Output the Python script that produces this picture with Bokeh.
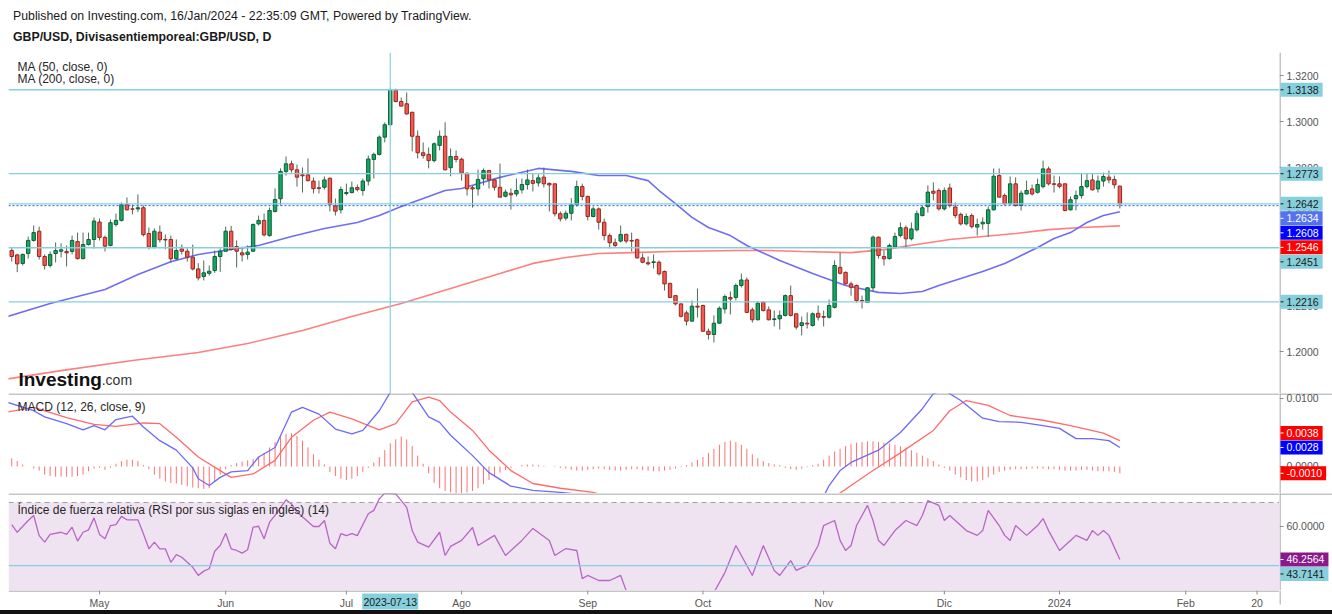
import pandas as pd
from bokeh.plotting import figure
from bokeh.models import Range1d, Span, Label, Div, ColumnDataSource, BoxAnnotation
from bokeh.layouts import column, row
from bokeh.core.properties import value
from bokeh.embed import file_html
from bokeh.resources import INLINE

FONT = "Liberation Sans"

# ---------------- data ----------------
dates = pd.bdate_range("2023-04-07", "2024-01-16")

open_ = [1.2439, 1.2420, 1.2383, 1.2426, 1.2483, 1.2523, 1.2413, 1.2374, 1.2426, 1.2436,
         1.2435, 1.2435, 1.2478, 1.2404, 1.2465, 1.2487, 1.2563, 1.2496, 1.2461, 1.2552,
         1.2570, 1.2639, 1.2620, 1.2620, 1.2625, 1.2513, 1.2454, 1.2519, 1.2487, 1.2487,
         1.2403, 1.2446, 1.2436, 1.2410, 1.2359, 1.2326, 1.2340, 1.2352, 1.2413, 1.2436,
         1.2523, 1.2456, 1.2429, 1.2422, 1.2436, 1.2555, 1.2570, 1.2504, 1.2609, 1.2664,
         1.2783, 1.2816, 1.2790, 1.2768, 1.2768, 1.2741, 1.2712, 1.2714, 1.2753, 1.2633,
         1.2616, 1.2687, 1.2691, 1.2713, 1.2700, 1.2741, 1.2835, 1.2857, 1.2932, 1.2986,
         1.3135, 1.3087, 1.3077, 1.3040, 1.2936, 1.2864, 1.2857, 1.2830, 1.2896, 1.2936,
         1.2799, 1.2848, 1.2836, 1.2775, 1.2712, 1.2707, 1.2751, 1.2787, 1.2746, 1.2714,
         1.2675, 1.2688, 1.2685, 1.2703, 1.2726, 1.2743, 1.2733, 1.2758, 1.2731, 1.2729,
         1.2599, 1.2580, 1.2601, 1.2638, 1.2717, 1.2674, 1.2587, 1.2620, 1.2562, 1.2504,
         1.2473, 1.2480, 1.2509, 1.2483, 1.2486, 1.2407, 1.2386, 1.2387, 1.2388, 1.2348,
         1.2296, 1.2243, 1.2207, 1.2168, 1.2132, 1.2197, 1.2200, 1.2088, 1.2074, 1.2123,
         1.2185, 1.2235, 1.2235, 1.2287, 1.2311, 1.2181, 1.2138, 1.2214, 1.2181, 1.2139,
         1.2142, 1.2157, 1.2243, 1.2164, 1.2113, 1.2123, 1.2113, 1.2166, 1.2152, 1.2149,
         1.2192, 1.2366, 1.2344, 1.2294, 1.2287, 1.2222, 1.2214, 1.2277, 1.2497, 1.2413,
         1.2404, 1.2454, 1.2504, 1.2538, 1.2490, 1.2529, 1.2591, 1.2630, 1.2697, 1.2700,
         1.2620, 1.2711, 1.2628, 1.2596, 1.2555, 1.2591, 1.2541, 1.2555, 1.2557, 1.2616,
         1.2765, 1.2678, 1.2642, 1.2729, 1.2635, 1.2685, 1.2707, 1.2692, 1.2717, 1.2794,
         1.2729, 1.2729, 1.2729, 1.2616, 1.2664, 1.2678, 1.2717, 1.2746, 1.2707, 1.2741,
         1.2758, 1.2748, 1.2719]

high = [1.2452, 1.2425, 1.2426, 1.2500, 1.2548, 1.2543, 1.2422, 1.2435, 1.2474, 1.2470,
        1.2461, 1.2504, 1.2517, 1.2517, 1.2517, 1.2583, 1.2578, 1.2504, 1.2574, 1.2600,
        1.2648, 1.2670, 1.2639, 1.2683, 1.2635, 1.2539, 1.2535, 1.2548, 1.2509, 1.2504,
        1.2487, 1.2465, 1.2448, 1.2465, 1.2384, 1.2396, 1.2374, 1.2439, 1.2448, 1.2543,
        1.2546, 1.2483, 1.2456, 1.2461, 1.2557, 1.2591, 1.2600, 1.2626, 1.2709, 1.2796,
        1.2848, 1.2830, 1.2813, 1.2800, 1.2839, 1.2757, 1.2743, 1.2761, 1.2757, 1.2665,
        1.2717, 1.2730, 1.2739, 1.2726, 1.2752, 1.2852, 1.2865, 1.2939, 1.2996, 1.3143,
        1.3143, 1.3104, 1.3126, 1.3043, 1.2961, 1.2909, 1.2887, 1.2909, 1.2961, 1.2997,
        1.2883, 1.2874, 1.2843, 1.2778, 1.2722, 1.2791, 1.2796, 1.2787, 1.2752, 1.2817,
        1.2704, 1.2709, 1.2752, 1.2752, 1.2791, 1.2774, 1.2770, 1.2800, 1.2735, 1.2730,
        1.2609, 1.2613, 1.2667, 1.2743, 1.2730, 1.2678, 1.2630, 1.2626, 1.2578, 1.2513,
        1.2491, 1.2548, 1.2513, 1.2517, 1.2491, 1.2426, 1.2413, 1.2422, 1.2396, 1.2352,
        1.2299, 1.2243, 1.2209, 1.2178, 1.2222, 1.2274, 1.2204, 1.2100, 1.2157, 1.2196,
        1.2248, 1.2261, 1.2296, 1.2339, 1.2322, 1.2191, 1.2217, 1.2217, 1.2196, 1.2178,
        1.2178, 1.2248, 1.2287, 1.2165, 1.2152, 1.2170, 1.2170, 1.2200, 1.2178, 1.2226,
        1.2396, 1.2430, 1.2348, 1.2304, 1.2291, 1.2243, 1.2278, 1.2504, 1.2500, 1.2439,
        1.2470, 1.2517, 1.2561, 1.2548, 1.2561, 1.2613, 1.2635, 1.2722, 1.2735, 1.2709,
        1.2713, 1.2730, 1.2648, 1.2604, 1.2600, 1.2600, 1.2578, 1.2583, 1.2630, 1.2796,
        1.2796, 1.2687, 1.2761, 1.2757, 1.2700, 1.2743, 1.2726, 1.2752, 1.2830, 1.2804,
        1.2765, 1.2761, 1.2730, 1.2674, 1.2700, 1.2774, 1.2774, 1.2774, 1.2765, 1.2778,
        1.2787, 1.2765, 1.2721]

low = [1.2391, 1.2345, 1.2374, 1.2404, 1.2478, 1.2400, 1.2357, 1.2365, 1.2387, 1.2409,
       1.2370, 1.2422, 1.2400, 1.2400, 1.2461, 1.2448, 1.2483, 1.2435, 1.2457, 1.2543,
       1.2565, 1.2613, 1.2596, 1.2606, 1.2500, 1.2444, 1.2448, 1.2474, 1.2444, 1.2387,
       1.2396, 1.2422, 1.2391, 1.2352, 1.2309, 1.2309, 1.2330, 1.2342, 1.2346, 1.2435,
       1.2439, 1.2365, 1.2391, 1.2400, 1.2435, 1.2548, 1.2500, 1.2500, 1.2604, 1.2635,
       1.2765, 1.2778, 1.2717, 1.2691, 1.2739, 1.2687, 1.2687, 1.2704, 1.2609, 1.2591,
       1.2600, 1.2678, 1.2687, 1.2696, 1.2678, 1.2722, 1.2752, 1.2852, 1.2909, 1.2985,
       1.3083, 1.3065, 1.3030, 1.2870, 1.2839, 1.2839, 1.2796, 1.2822, 1.2874, 1.2787,
       1.2762, 1.2822, 1.2743, 1.2678, 1.2626, 1.2678, 1.2722, 1.2709, 1.2700, 1.2670,
       1.2670, 1.2617, 1.2674, 1.2687, 1.2704, 1.2696, 1.2717, 1.2713, 1.2609, 1.2587,
       1.2565, 1.2570, 1.2570, 1.2630, 1.2657, 1.2570, 1.2583, 1.2530, 1.2483, 1.2448,
       1.2452, 1.2474, 1.2470, 1.2435, 1.2404, 1.2384, 1.2374, 1.2361, 1.2330, 1.2265,
       1.2233, 1.2200, 1.2148, 1.2113, 1.2130, 1.2148, 1.2087, 1.2052, 1.2039, 1.2122,
       1.2165, 1.2161, 1.2222, 1.2278, 1.2168, 1.2126, 1.2135, 1.2174, 1.2135, 1.2109,
       1.2096, 1.2152, 1.2152, 1.2096, 1.2070, 1.2100, 1.2109, 1.2135, 1.2109, 1.2143,
       1.2187, 1.2335, 1.2291, 1.2243, 1.2213, 1.2187, 1.2213, 1.2261, 1.2404, 1.2374,
       1.2400, 1.2448, 1.2496, 1.2448, 1.2483, 1.2522, 1.2587, 1.2604, 1.2657, 1.2613,
       1.2613, 1.2626, 1.2580, 1.2548, 1.2548, 1.2535, 1.2504, 1.2530, 1.2498, 1.2613,
       1.2670, 1.2635, 1.2635, 1.2630, 1.2613, 1.2683, 1.2678, 1.2687, 1.2709, 1.2722,
       1.2691, 1.2709, 1.2609, 1.2613, 1.2613, 1.2665, 1.2709, 1.2700, 1.2691, 1.2717,
       1.2731, 1.2709, 1.2622]

close = [1.2413, 1.2381, 1.2422, 1.2483, 1.2517, 1.2413, 1.2374, 1.2422, 1.2439, 1.2442,
         1.2429, 1.2483, 1.2404, 1.2465, 1.2487, 1.2567, 1.2496, 1.2458, 1.2560, 1.2570,
         1.2639, 1.2616, 1.2619, 1.2625, 1.2508, 1.2454, 1.2523, 1.2486, 1.2485, 1.2403,
         1.2439, 1.2436, 1.2410, 1.2359, 1.2320, 1.2342, 1.2349, 1.2413, 1.2436, 1.2523,
         1.2443, 1.2436, 1.2420, 1.2432, 1.2552, 1.2570, 1.2507, 1.2613, 1.2661, 1.2783,
         1.2816, 1.2790, 1.2758, 1.2764, 1.2743, 1.2708, 1.2709, 1.2746, 1.2639, 1.2610,
         1.2704, 1.2691, 1.2712, 1.2704, 1.2741, 1.2837, 1.2857, 1.2932, 1.2986, 1.3135,
         1.3087, 1.3067, 1.3033, 1.2936, 1.2864, 1.2852, 1.2830, 1.2903, 1.2936, 1.2790,
         1.2848, 1.2835, 1.2775, 1.2707, 1.2707, 1.2748, 1.2787, 1.2746, 1.2714, 1.2671,
         1.2693, 1.2681, 1.2700, 1.2726, 1.2746, 1.2731, 1.2755, 1.2729, 1.2724, 1.2599,
         1.2577, 1.2601, 1.2638, 1.2717, 1.2674, 1.2587, 1.2620, 1.2562, 1.2504, 1.2473,
         1.2461, 1.2509, 1.2480, 1.2480, 1.2407, 1.2388, 1.2381, 1.2390, 1.2338, 1.2294,
         1.2235, 1.2207, 1.2153, 1.2132, 1.2197, 1.2193, 1.2088, 1.2074, 1.2123, 1.2188,
         1.2239, 1.2228, 1.2287, 1.2311, 1.2170, 1.2138, 1.2210, 1.2178, 1.2138, 1.2142,
         1.2157, 1.2243, 1.2157, 1.2106, 1.2125, 1.2120, 1.2164, 1.2149, 1.2149, 1.2200,
         1.2374, 1.2340, 1.2294, 1.2279, 1.2222, 1.2219, 1.2277, 1.2497, 1.2417, 1.2403,
         1.2461, 1.2500, 1.2538, 1.2490, 1.2533, 1.2599, 1.2625, 1.2693, 1.2688, 1.2620,
         1.2700, 1.2635, 1.2591, 1.2555, 1.2587, 1.2543, 1.2552, 1.2562, 1.2616, 1.2762,
         1.2671, 1.2642, 1.2729, 1.2635, 1.2688, 1.2700, 1.2685, 1.2726, 1.2794, 1.2729,
         1.2727, 1.2718, 1.2613, 1.2660, 1.2678, 1.2717, 1.2743, 1.2703, 1.2741, 1.2761,
         1.2746, 1.2725, 1.2642]

# moving averages (bar number, value)
ma50_bar = [-1, 7, 17, 23, 29, 34, 39, 45, 51, 57, 63, 67, 71, 79, 82, 89, 96, 102, 107, 112,
            116, 118, 121, 124, 127, 131, 134, 140, 146, 152, 158, 162, 166, 169, 173, 177,
            181, 184, 187, 190, 193, 196, 199, 202]
ma50_val = [1.2150, 1.2209, 1.2270, 1.2335, 1.2390, 1.2422, 1.2440, 1.2461, 1.2500, 1.2535,
            1.2561, 1.2591, 1.2630, 1.2700, 1.2709, 1.2757, 1.2796, 1.2783, 1.2765, 1.2765,
            1.2743, 1.2700, 1.2643, 1.2583, 1.2539, 1.2504, 1.2461, 1.2396, 1.2339, 1.2287,
            1.2257, 1.2252, 1.2261, 1.2287, 1.2317, 1.2348, 1.2383, 1.2417, 1.2452, 1.2491,
            1.2517, 1.2561, 1.2591, 1.2608]
ma200_bar = [-1, 9, 22, 34, 43, 53, 62, 71, 77, 83, 89, 95, 101, 107, 113, 120, 132, 138,
             144, 153, 159, 165, 171, 177, 183, 189, 195, 202]
ma200_val = [1.1880, 1.1917, 1.1961, 1.1996, 1.2035, 1.2091, 1.2152, 1.2209, 1.2252, 1.2296,
             1.2339, 1.2383, 1.2409, 1.2426, 1.2430, 1.2435, 1.2439, 1.2439, 1.2435, 1.2430,
             1.2443, 1.2465, 1.2487, 1.2500, 1.2513, 1.2530, 1.2539, 1.2546]

# MACD (12, 26, close, 9)
macd_bar = [-1, 4, 6, 10, 13, 15, 17, 19, 22, 24, 27, 30, 33, 34, 36, 38, 40, 43, 45, 48,
            51, 53, 56, 59, 62, 64, 67, 69, 71, 73, 76, 78, 80, 84, 87, 91, 95, 100, 106, 111,
            117, 122, 127, 133, 138, 144, 148, 149, 151, 153, 158, 162, 166, 168, 170, 173,
            177, 180, 184, 188, 191, 194, 197, 200, 202]
macd_val = [0.0095, 0.0082, 0.0073, 0.0063, 0.0054, 0.0060, 0.0054, 0.0069, 0.0074, 0.0058,
            0.0038, 0.0024, -0.0002, -0.0018, -0.0028, -0.0016, -0.0008, -0.0006, 0.0014, 0.0028,
            0.0080, 0.0087, 0.0077, 0.0055, 0.0048, 0.0053, 0.0082, 0.0109, 0.0119, 0.0109,
            0.0073, 0.0065, 0.0046, 0.0016, -0.0009, -0.0029, -0.0035, -0.0038, -0.0043, -0.0057,
            -0.0065, -0.0080, -0.0076, -0.0057, -0.0050, -0.0050, -0.0044, -0.0028, -0.0006, 0.0006,
            0.0024, 0.0050, 0.0085, 0.0107, 0.0112, 0.0097, 0.0071, 0.0066, 0.0065, 0.0060,
            0.0056, 0.0041, 0.0041, 0.0038, 0.0028]
signal_bar = [-1, 4, 10, 15, 19, 24, 27, 30, 34, 38, 40, 44, 48, 51, 55, 58, 62, 67, 70, 73,
              76, 78, 80, 84, 87, 91, 95, 100, 106, 111, 117, 122, 127, 133, 138, 144, 149, 153,
              157, 162, 168, 171, 174, 178, 182, 188, 193, 199, 202]
signal_val = [0.0080, 0.0087, 0.0072, 0.0062, 0.0059, 0.0064, 0.0063, 0.0043, 0.0014, -0.0006,
              -0.0016, -0.0011, 0.0009, 0.0043, 0.0068, 0.0080, 0.0070, 0.0054, 0.0063, 0.0095,
              0.0102, 0.0097, 0.0080, 0.0053, 0.0024, -0.0006, -0.0025, -0.0032, -0.0038, -0.0050,
              -0.0062, -0.0072, -0.0087, -0.0094, -0.0087, -0.0072, -0.0050, -0.0028, -0.0006, 0.0020,
              0.0053, 0.0082, 0.0097, 0.0090, 0.0075, 0.0068, 0.0060, 0.0049, 0.0038]
# histogram, one value per bar, in units of 0.0001
hist_e4 = [12, 8, 3, 0, -3, -6, -12, -14, -15, -15, -15, -15, -14, -12, -7, -3, -2, -5, -2,
           4, 8, 10, 10, 8, 2, -4, -12, -18, -22, -24, -25, -27, -29, -31, -32, -33, -32,
           -22, -12, -4, 2, 5, 7, 9, 11, 14, 20, 28, 36, 44, 48, 49, 45, 38, 28, 18, 10, 3,
           -8, -14, -18, -20, -18, -14, -8, -2, 6, 14, 24, 34, 40, 44, 40, 30, 16, 4, -10,
           -24, -32, -36, -38, -40, -40, -38, -36, -32, -26, -20, -14, -9, -5, -2, 0,
           2, 3, 3, 2, 1, 0, 1, -2, -3, -5, -6, -6, -5, -4, -3, -4, -5, -6, -6,
           -5, -4, -4, -5, -6, -7, -7, -6, -5, -3, -1, 2, 6, 10, 14, 20, 26, 32, 36, 38, 36, 32, 26,
           18, 12, 8, 5, 3, 2, -2, -4, -5, -3, -1, 2, 4, 10, 16, 22, 26, 30, 33, 35, 36, 37,
           37, 36, 35, 34, 32, 30, 28, 24, 20, 16, 12, 8, 3, -2, -6,
           -12, -16, -20, -22, -22, -20, -16, -12, -8, -6, -5, -4, -4, -4, -3, -3, -3, -4, -4, -5, -6,
           -6, -6, -5, -5, -6, -7, -7, -7, -8, -10]

# RSI (14)
rsi_bar = [0, 1, 3, 4, 5, 6, 7, 9, 10, 11, 12, 13, 14, 15, 16, 17, 18, 19, 20, 21, 23, 24, 25,
           26, 27, 28, 29, 30, 31, 33, 34, 35, 36, 37, 38, 39, 40, 41, 42, 43, 44, 45, 46, 47,
           48, 50, 51, 52, 55, 56, 57, 58, 59, 60, 61, 62, 63, 65, 66, 67, 68, 70, 72, 73, 74,
           76, 78, 79, 80, 82, 84, 85, 88, 90, 93, 95, 98, 99, 101, 103, 104, 105, 107, 109,
           111, 112, 115, 118, 122, 126, 128, 130, 132, 133, 135, 136, 137, 139, 140, 142, 143,
           145, 146, 147, 148, 150, 151, 152, 153, 154, 156, 157, 158, 159, 161, 162, 163, 165,
           166, 167, 169, 170, 171, 173, 174, 176, 177, 178, 180, 181, 182, 183, 185, 186, 187,
           188, 189, 191, 192, 193, 194, 196, 197, 198, 199, 200, 202]
rsi_val = [60.8, 57.6, 62.5, 64.6, 56.2, 53.5, 56.7, 57.6, 56.7, 59.7, 53.9, 57.6, 58.6, 63.6,
           56.7, 54.9, 60.4, 60.8, 64.2, 62.8, 62.8, 57.0, 50.7, 53.5, 50.7, 50.7, 45.1, 48.3,
           47.2, 43.0, 39.6, 41.4, 42.4, 49.7, 52.1, 57.2, 50.7, 50.0, 48.9, 50.3, 59.7, 60.1,
           54.9, 61.8, 64.6, 71.1, 69.4, 66.0, 60.0, 60.0, 62.5, 53.0, 50.7, 57.0, 56.2, 57.0,
           56.2, 65.3, 66.7, 71.5, 73.9, 73.6, 68.0, 58.3, 53.5, 51.4, 57.6, 47.9, 51.7, 54.2,
           59.6, 52.1, 56.3, 47.9, 54.2, 59.2, 54.2, 47.9, 50.8, 50.0, 38.3, 39.6, 37.5, 37.5,
           39.6, 33.3, 29.2, 25.0, 23.0, 27.0, 32.5, 40.8, 52.1, 47.9, 39.6, 45.8, 52.1, 41.7,
           39.6, 45.8, 41.7, 43.8, 47.9, 52.1, 60.4, 62.5, 54.2, 50.0, 52.1, 60.4, 68.8, 62.5,
           54.2, 52.1, 58.3, 60.4, 62.5, 60.4, 64.6, 70.8, 68.8, 62.5, 64.6, 60.4, 58.3, 56.3,
           58.3, 66.7, 60.4, 56.3, 54.2, 60.4, 56.3, 58.3, 60.4, 63.3, 58.3, 50.0, 52.1, 54.2,
           56.3, 54.2, 58.3, 56.3, 58.3, 56.3, 46.2564]

price_levels = [1.3138, 1.2773, 1.2642, 1.2451, 1.2216]
last_price = 1.2634
rsi_level = 43.7141
marked_date = "2023-07-13"

tick_dates = ["2023-05-01", "2023-06-01", "2023-07-03", "2023-08-01", "2023-09-01",
              "2023-10-02", "2023-11-01", "2023-12-01", "2024-01-01", "2024-02-01", "2024-02-20"]
tick_labels = ["May", "Jun", "Jul", "Ago", "Sep", "Oct", "Nov", "Dic", "2024", "Feb", "20"]

n = len(dates)
assert len(open_) == n and len(high) == n and len(low) == n and len(close) == n
assert len(hist_e4) == n and len(rsi_bar) == len(rsi_val)
assert len(macd_bar) == len(macd_val) and len(signal_bar) == len(signal_val)

calendar = pd.bdate_range("2023-04-07", "2024-03-01")
pos = {d.strftime("%Y-%m-%d"): k for k, d in enumerate(calendar)}
bars = list(range(n))

# ---------------- styling ----------------
MAIN_W, SIDE_W = 1279, 53
LBORDER = 8
AX = "#8c8c8c"
LBLUE = "#86cfdc"
UP, UP_EDGE = "#14a862", "#0f5f37"
DN, DN_EDGE = "#f25a52", "#962820"
WICK = "#4d6b59"
TXT = "#555555"
FS = "10.5px"

xr = Range1d(-0.59, 231.1)


def base_fig(w, h, xrange, yrange, left=0):
    p = figure(width=w, height=h, x_range=xrange, y_range=yrange, output_backend="svg",
               toolbar_location=None, x_axis_location=None, y_axis_location=None,
               min_border_left=left, min_border_right=0, min_border_top=0, min_border_bottom=0)
    p.outline_line_color = None
    p.grid.visible = False
    p.background_fill_color = "white"
    p.border_fill_color = "white"
    return p


def main_fig(h, yr):
    return base_fig(MAIN_W, h, xr, yr, left=LBORDER)


def text_w(s):
    return sum(5.84 if ch.isdigit() else (3.5 if ch == "-" else 2.92) for ch in s)


def stacked(values, anchor, ppu, h=14.5):
    order = sorted(range(len(values)), key=lambda k: -values[k])
    ys = {k: -values[k] * ppu for k in order}
    ai = order.index(anchor)
    for j in range(ai + 1, len(order)):
        ys[order[j]] = max(ys[order[j]], ys[order[j - 1]] + h)
    for j in range(ai - 1, -1, -1):
        ys[order[j]] = min(ys[order[j]], ys[order[j + 1]] - h)
    return [-ys[k] / ppu for k in range(len(values))]


def side_fig(h, yr, ticks, items, anchor, sep=False):
    s = base_fig(SIDE_W, h, Range1d(0, SIDE_W), yr)
    ppu = h / (yr.end - yr.start)
    if sep:
        ysep = yr.end - 0.5 / ppu
        s.segment(x0=[0], y0=[ysep], x1=[SIDE_W], y1=[ysep], line_color=AX, line_width=1)
    s.segment(x0=[0.5], y0=[yr.start], x1=[0.5], y1=[yr.end], line_color=AX, line_width=1)
    labels = [f"{t:.4f}" for t in ticks]
    s.segment(x0=[0] * len(ticks), y0=ticks, x1=[4] * len(ticks), y1=ticks, line_color=AX)
    s.text(x=[7] * len(ticks), y=ticks, text=labels, text_font=value(FONT),
           text_font_size=FS, text_color=TXT, text_baseline="middle", text_align="left")
    vals = [v for v, _, _ in items]
    ys = stacked(vals, anchor, ppu)
    txts = [f"{v:.4f}" for v in vals]
    s.quad(left=[1] * len(ys), right=[7 + text_w(t) + 4 for t in txts],
           top=[y + 7 / ppu for y in ys], bottom=[y - 7 / ppu for y in ys],
           fill_color=[b for _, b, _ in items], line_color=None)
    s.segment(x0=[1] * len(ys), y0=ys, x1=[4] * len(ys), y1=ys,
              line_color=[f for _, _, f in items], line_width=1)
    s.text(x=[7] * len(ys), y=ys, text=txts, text_font=value(FONT), text_font_size=FS,
           text_color=[f for _, _, f in items], text_baseline="middle", text_align="left")
    return s


def text_label(p, x, y, txt, size="12px", color="#262626", style="normal", baseline="middle"):
    p.add_layout(Label(x=x, y=y, text=txt, text_font=FONT, text_font_size=size,
                       text_color=color, text_font_style=style, text_baseline=baseline,
                       text_align="left"))


# ---------------- header ----------------
header = Div(text=(
    "<div style=\"position:relative;width:1332px;height:52px;font-family:'Liberation Sans',Arial,sans-serif;color:#1a1a1a\">"
    "<div style=\"position:absolute;left:13px;top:8px;font-size:12.3px;white-space:nowrap\">"
    "Published on Investing.com, 16/Jan/2024 - 22:35:09 GMT, Powered by TradingView.</div>"
    "<div style=\"position:absolute;left:13px;top:29px;font-size:12.3px;font-weight:bold;white-space:nowrap\">"
    "GBP/USD, Divisasentiemporeal:GBP/USD, D</div></div>"),
    width=1332, height=52, margin=0)

# ---------------- price pane ----------------
PH = 341
yr_p = Range1d(1.18174, 1.33)
pp = main_fig(PH, yr_p)

for lv in price_levels:
    pp.add_layout(Span(location=lv, dimension="width", line_color=LBLUE, line_width=1.3))
pp.add_layout(Span(location=last_price, dimension="width", line_color="#2f55e0",
                   line_width=1, line_dash="2 2"))
pp.add_layout(Span(location=pos[marked_date], dimension="height", line_color=LBLUE, line_width=1.2))

pp.line(ma200_bar, ma200_val, line_color="#ff7f7f", line_width=1.6)
pp.line(ma50_bar, ma50_val, line_color="#6e6ef5", line_width=1.6)

up = [c >= o for o, c in zip(open_, close)]
src = ColumnDataSource(dict(
    x=bars, o=open_, h=high, l=low, c=close,
    top=[max(o, c) for o, c in zip(open_, close)],
    bot=[min(o, c) for o, c in zip(open_, close)],
    fill=[UP if u else DN for u in up],
    edge=[UP_EDGE if u else DN_EDGE for u in up]))
pp.segment(x0="x", y0="l", x1="x", y1="h", source=src, line_color=WICK, line_width=1)
pp.vbar(x="x", width=0.62, top="top", bottom="bot", source=src, fill_color="fill",
        line_color="edge", line_width=1)

text_label(pp, 1.05, 1.3235, "MA (50, close, 0)")
text_label(pp, 1.05, 1.3183, "MA (200, close, 0)")
text_label(pp, 1.23, 1.1878, "Investing", size="19px", color="#111111", style="bold",
           baseline="alphabetic")
text_label(pp, 16.4, 1.1878, ".com", size="14px", color="#333333", baseline="alphabetic")

sp = side_fig(PH, yr_p, [1.20, 1.22, 1.24, 1.26, 1.28, 1.30, 1.32], [
    (1.3138, LBLUE, "#1a1a1a"),
    (1.2773, LBLUE, "#1a1a1a"),
    (1.2642, LBLUE, "#1a1a1a"),
    (last_price, "#5472f0", "white"),
    (ma50_val[-1], "#0000ff", "white"),
    (ma200_val[-1], "#ff0000", "white"),
    (1.2451, LBLUE, "#1a1a1a"),
    (1.2216, LBLUE, "#1a1a1a")], anchor=2)

# ---------------- MACD pane ----------------
MH = 100
yr_m = Range1d(-0.003971, 0.010735)
pm = main_fig(MH, yr_m)
pm.add_layout(Span(location=yr_m.end - 0.5 * (yr_m.end - yr_m.start) / MH, dimension="width",
                   line_color=AX, line_width=1))
hist = [v * 1e-4 for v in hist_e4]
pm.segment(x0=bars, y0=[0] * n, x1=bars, y1=hist, line_color="#ff7070", line_width=1)
pm.line(signal_bar, signal_val, line_color="#ff6b6b", line_width=1.3)
pm.line(macd_bar, macd_val, line_color="#6a6aff", line_width=1.3)
text_label(pm, 1.05, 0.00868, "MACD (12, 26, close, 9)")
sm = side_fig(MH, yr_m, [0.0, 0.01], [
    (signal_val[-1], "#ff0000", "white"),
    (macd_val[-1], "#0000ff", "white"),
    (hist[-1], "#ff0000", "white")], anchor=1, sep=True)

# ---------------- RSI pane ----------------
RH = 97
yr_r = Range1d(33.33, 73.75)
pr = main_fig(RH, yr_r)
pr.add_layout(BoxAnnotation(bottom=30, top=70, fill_color="#f0e3f1", fill_alpha=1.0,
                            line_color=None, level="underlay"))
pr.add_layout(Span(location=yr_r.end - 0.5 * (yr_r.end - yr_r.start) / RH,
                   dimension="width", line_color=AX, line_width=1))
pr.add_layout(Span(location=70, dimension="width", line_color="#a0a0a0", line_width=1,
                   line_dash="5 4"))
pr.add_layout(Span(location=rsi_level, dimension="width", line_color=LBLUE, line_width=1.2))
pr.line(rsi_bar, rsi_val, line_color="#b766c6", line_width=1.3)
text_label(pr, 1.05, 66.67, "Índice de fuerza relativa (RSI por sus siglas en inglés) (14)")
sr = side_fig(RH, yr_r, [60], [
    (rsi_val[-1], "#8a1a8a", "white"),
    (rsi_level, LBLUE, "#1a1a1a")], anchor=0, sep=True)

# ---------------- time axis strip ----------------
XH = 20
px = main_fig(XH, Range1d(0, XH))
tick_pos = [pos[d] for d in tick_dates]
px.segment(x0=[xr.start], y0=[XH - 0.5], x1=[xr.end], y1=[XH - 0.5], line_color=AX)
px.segment(x0=tick_pos, y0=[XH] * len(tick_pos), x1=tick_pos, y1=[XH - 4] * len(tick_pos),
           line_color=AX)
px.text(x=tick_pos, y=[8] * len(tick_pos), text=tick_labels, text_font=value(FONT),
        text_font_size=FS, text_color=TXT, text_align="center", text_baseline="middle")
mk = pos[marked_date]
px.rect(x=[mk], y=[9], width=56 / 5.485, height=16, fill_color=LBLUE, line_color=None)
px.text(x=[mk], y=[9], text=[marked_date], text_font=value(FONT), text_font_size=FS,
        text_color="#1a1a1a", text_align="center", text_baseline="middle")
sx = base_fig(SIDE_W, XH, Range1d(0, SIDE_W), Range1d(0, XH))
sx.segment(x0=[0.5], y0=[6], x1=[0.5], y1=[XH], line_color=AX)

footer = Div(text="", width=1332, height=4, margin=0, styles={"background-color": "#111111"})

layout = column(header, row(pp, sp, spacing=0), row(pm, sm, spacing=0),
                row(pr, sr, spacing=0), row(px, sx, spacing=0), footer, spacing=0)
open("out.html", "w").write(file_html(layout, INLINE))
